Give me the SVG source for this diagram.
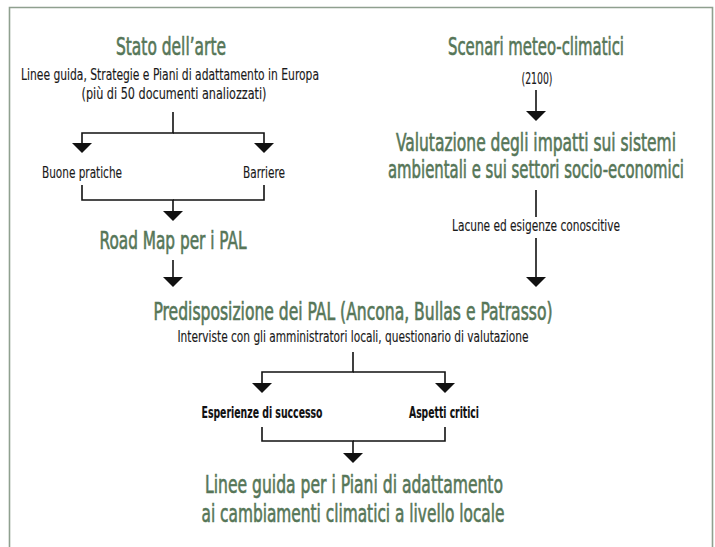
<svg xmlns="http://www.w3.org/2000/svg" width="715" height="547" viewBox="0 0 715 547">
<style>
text{font-family:"Liberation Sans Narrow","DejaVu Sans Condensed","Liberation Sans",Arial,sans-serif;text-anchor:middle}
.t{font-size:24px;fill:#567658;stroke:#567658;stroke-width:0.6px}
.s{font-size:16.5px;fill:#1a1a1a;stroke:#1a1a1a;stroke-width:0.15px}
.b{font-weight:bold;fill:#111}
.c{fill:none;stroke:#111;stroke-width:1.6}
</style>
<defs>
<marker id="ah" markerUnits="userSpaceOnUse" viewBox="0 0 10 20" markerWidth="10" markerHeight="20" refX="0" refY="10" orient="auto">
<path d="M0,0 L10,10 L0,20 Z" fill="#111"/>
</marker>
</defs>
<rect width="715" height="547" fill="#fff"/>
<path d="M9.5,548 V7.5 H712.5 V548" fill="none" stroke="#8fa08f" stroke-width="1.6"/>

<g id="stato">
<text class="t" x="171" y="55" textLength="110" lengthAdjust="spacingAndGlyphs">Stato dell’arte</text>
<text class="s" x="170" y="80" textLength="298" lengthAdjust="spacingAndGlyphs">Linee guida, Strategie e Piani di adattamento in Europa</text>
<text class="s" x="174" y="99" textLength="185" lengthAdjust="spacingAndGlyphs">(più di 50 documenti analiozzati)</text>
</g>
<g id="buone"><text class="s" x="82" y="178" textLength="80" lengthAdjust="spacingAndGlyphs">Buone pratiche</text></g>
<g id="barriere"><text class="s" x="264" y="178" textLength="42" lengthAdjust="spacingAndGlyphs">Barriere</text></g>
<g id="roadmap"><text class="t" x="173" y="249" textLength="147" lengthAdjust="spacingAndGlyphs">Road Map per i PAL</text></g>

<g id="scenari">
<text class="t" x="536" y="55" textLength="176" lengthAdjust="spacingAndGlyphs">Scenari meteo-climatici</text>
<text class="s" x="537" y="84" textLength="31" lengthAdjust="spacingAndGlyphs">(2100)</text>
</g>
<g id="valutazione">
<text class="t" x="536" y="151" textLength="280" lengthAdjust="spacingAndGlyphs">Valutazione degli impatti sui sistemi</text>
<text class="t" x="536" y="178" textLength="296" lengthAdjust="spacingAndGlyphs">ambientali e sui settori socio-economici</text>
</g>
<g id="lacune"><text class="s" x="536" y="231" textLength="168" lengthAdjust="spacingAndGlyphs">Lacune ed esigenze conoscitive</text></g>

<g id="predisposizione">
<text class="t" x="353" y="320" textLength="399" lengthAdjust="spacingAndGlyphs">Predisposizione dei PAL (Ancona, Bullas e Patrasso)</text>
<text class="s" x="353" y="342" textLength="351" lengthAdjust="spacingAndGlyphs">Interviste con gli amministratori locali, questionario di valutazione</text>
</g>
<g id="esperienze"><text class="s b" x="262" y="418" textLength="121" lengthAdjust="spacingAndGlyphs">Esperienze di successo</text></g>
<g id="aspetti"><text class="s b" x="444" y="418" textLength="70" lengthAdjust="spacingAndGlyphs">Aspetti critici</text></g>
<g id="lineeguida">
<text class="t" x="354" y="493" textLength="298" lengthAdjust="spacingAndGlyphs">Linee guida per i Piani di adattamento</text>
<text class="t" x="353" y="522" textLength="303" lengthAdjust="spacingAndGlyphs">ai cambiamenti climatici a livello locale</text>
</g>

<g id="connectors">
<path class="c" d="M173,112 V133 H82 V143" marker-end="url(#ah)"/>
<path class="c" d="M173,133 H264 V143" marker-end="url(#ah)"/>
<path class="c" d="M82,185 V200 H173 V211" marker-end="url(#ah)"/>
<path class="c" d="M264,185 V200 H173"/>
<path class="c" d="M173,260 V277" marker-end="url(#ah)"/>
<path class="c" d="M536,90 V111" marker-end="url(#ah)"/>
<path class="c" d="M536,190 V217"/>
<path class="c" d="M536,238 V277" marker-end="url(#ah)"/>
<path class="c" d="M353,352 V372 H262 V383" marker-end="url(#ah)"/>
<path class="c" d="M353,372 H445 V383" marker-end="url(#ah)"/>
<path class="c" d="M262,427 V441 H353 V453" marker-end="url(#ah)"/>
<path class="c" d="M445,427 V441 H353"/>
</g>
</svg>
